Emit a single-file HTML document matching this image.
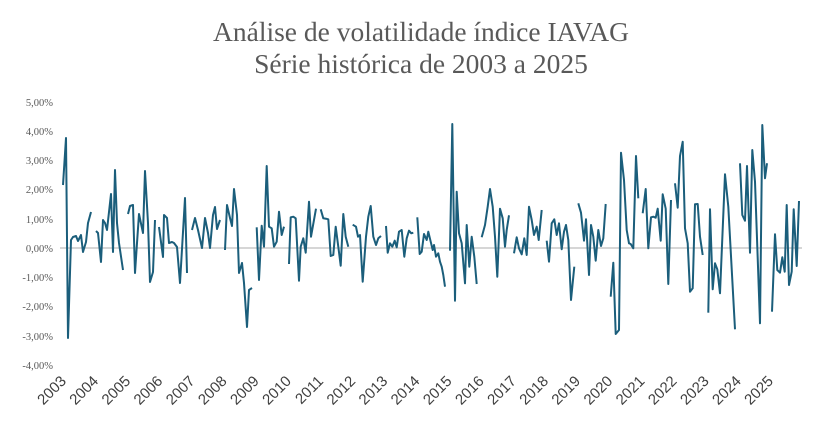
<!DOCTYPE html>
<html><head><meta charset="utf-8"><style>
html,body{margin:0;padding:0;background:#fff;width:818px;height:430px;overflow:hidden}
</style></head><body>
<svg width="818" height="430" viewBox="0 0 818 430" xmlns="http://www.w3.org/2000/svg">
<g font-family="Liberation Serif, serif" fill="#595959" text-anchor="middle" font-size="27.5">
<text x="421" y="41">Análise de volatilidade índice IAVAG</text>
<text x="421" y="73">Série histórica de 2003 a 2025</text>
</g>
<g font-family="Liberation Serif, serif" fill="#595959" text-anchor="end" font-size="10.5">
<text x="53" y="106">5,00%</text>
<text x="53" y="135">4,00%</text>
<text x="53" y="164">3,00%</text>
<text x="53" y="193">2,00%</text>
<text x="53" y="223">1,00%</text>
<text x="53" y="252">0,00%</text>
<text x="53" y="281">-1,00%</text>
<text x="53" y="310">-2,00%</text>
<text x="53" y="340">-3,00%</text>
<text x="53" y="369">-4,00%</text>
</g>
<line x1="60" y1="248" x2="802" y2="248" stroke="#c8c8c8" stroke-width="1.5"/>
<g fill="none" stroke="#1b5e7b" stroke-width="2" stroke-linejoin="round">
<polyline points="63,185 66,138 68,338 71,240 73,237 76,236 78,241 81,235 83,252 86,242 88,223 91,212"/>
<polyline points="96,231 98,233 101,262 103,220 105,223 107,230 111,194 113,252 115,170 117,223 119,243 123,270"/>
<polyline points="128,214 130,206 133,205 135,273 137,243 139,214 143,233 145,171 148,223 150,282 153,272 155,220"/>
<polyline points="159,227 163,257 164,215 167,218 169,243 172,242 174,243 177,247 180,283 183,232 185,198 187,273"/>
<polyline points="192,230 195,218 198,230 202,248 205,218 208,233 210,248 213,215 215,207 217,229 220,220"/>
<polyline points="225,250 227,205 230,218 232,226 234,189 237,215 239,273 242,263 244,283 247,327 249,290 252,288"/>
<polyline points="256.7,227.3 259,280 261.7,225.7 264,246.7 266.7,166 269,226.7 271.7,228.3 274,246.7 276.7,241.7 279,211.7 281.7,235 284,226.7"/>
<polyline points="289,264 290.7,217.3 293.3,216.7 295.7,218.3 299,280.7 300.7,246.7 303.3,238.3 305.7,252.7 309,201.7 311,236.7 316,208.7"/>
<polyline points="320.7,209.3 323.3,218.3 326,218.7 328.3,219.3 330.7,256 333.3,255 335.7,226.7 338.3,246.7 340.7,265.7 343.3,214 345.7,236.7 348.3,246.7"/>
<polyline points="352.7,224.7 356,226.7 358,236.7 360,235 362.7,281.7 366,236.7 368.3,216.7 370.7,206 373.3,236.7 376,245 378.3,238.3 381,236"/>
<polyline points="386,226 387.7,252.7 390,243.3 392.3,246.7 394.7,240.7 396.7,247.3 399,231.7 401.7,230 404.3,256.7 406.7,238.3 409,230.7 411.3,233.3 413.3,232.7"/>
<polyline points="417.3,217.3 419.7,254 421.7,251.7 424,234 426.7,240 428.3,231.7 430.7,241.7 432.7,250 434,245 436,256.7 438.3,253.3 440,261.7 441.7,266.7 443.3,275 445,286.7"/>
<polyline points="450,250.7 452.3,124 455,300.7 456.7,191.7 459,233.3 461.7,243.3 465,283.3 466.7,225 469.3,266.7 471.7,236.7 474.3,256.7 476.7,284"/>
<polyline points="481.7,237.3 485,225 487.7,206.7 490,189 492.7,206.7 495,236.7 497.3,276.7 500,208.7 502.7,218.3 505,246.7 506.7,230 509,215.3"/>
<polyline points="514,253.3 516.7,237.3 519,248.3 521.7,254.3 524.3,238.3 526.7,255 529,206.7 531.7,220 534,235 536.7,226.7 538.7,240 541.7,210"/>
<polyline points="546.7,240.7 549,261.7 551.7,223.3 554.3,219.3 556.7,235 559,223.3 561.7,249.3 564,231.7 566,225 568.3,240 571,300 574.3,266.7"/>
<polyline points="578.3,203.3 581,212.7 584,240.7 586,219.3 589,275 591,225 593.3,236.7 595.7,260.7 598.3,230 601,246 603.3,238.3 605.7,204"/>
<polyline points="610.7,296.7 613.3,262.7 615.7,334 619,330 621,152.7 624,180 626.7,230 629,243.3 630.7,244 633.3,248.3 636,156 638.3,198.3"/>
<polyline points="642.7,213.3 645.7,189 648.3,248.3 651,217.3 653.3,216.7 655.7,217.7 657.7,208.7 660.7,240.7 662.7,194.3 665.7,208.7 668.3,284 671,200"/>
<polyline points="675,183.3 677.7,207.7 680,156 682.7,141.7 685,228.3 687.7,243.3 690,291.7 692.7,288.3 695,204.3 697.7,204 700,236.7 702.7,255"/>
<polyline points="708.3,312.7 710,209.3 712.7,289.3 715,263.3 717.3,269.3 720,293.3 725,174.3 728.3,206.7 735,329.3"/>
<polyline points="740,163.3 742.3,215 745,220.7 747,166 750,252.7 752.3,150 755,181.7 760,323.3 762.3,125 765,178.3 767,163.3"/>
<polyline points="772,311.7 775,234.3 777.3,270 780,272.7 782.3,257.3 784.7,271.7 786.7,205 789,285 791.7,271.7 793.7,209.3 796.7,266 799,201"/>
</g>
<g font-family="Liberation Sans, sans-serif" fill="#404040" text-anchor="end" font-size="15">
<text transform="translate(67,382) rotate(-45)">2003</text>
<text transform="translate(99.1,382) rotate(-45)">2004</text>
<text transform="translate(131.3,382) rotate(-45)">2005</text>
<text transform="translate(163.4,382) rotate(-45)">2006</text>
<text transform="translate(195.6,382) rotate(-45)">2007</text>
<text transform="translate(227.7,382) rotate(-45)">2008</text>
<text transform="translate(259.8,382) rotate(-45)">2009</text>
<text transform="translate(292,382) rotate(-45)">2010</text>
<text transform="translate(324.1,382) rotate(-45)">2011</text>
<text transform="translate(356.3,382) rotate(-45)">2012</text>
<text transform="translate(388.4,382) rotate(-45)">2013</text>
<text transform="translate(420.5,382) rotate(-45)">2014</text>
<text transform="translate(452.7,382) rotate(-45)">2015</text>
<text transform="translate(484.8,382) rotate(-45)">2016</text>
<text transform="translate(517,382) rotate(-45)">2017</text>
<text transform="translate(549.1,382) rotate(-45)">2018</text>
<text transform="translate(581.2,382) rotate(-45)">2019</text>
<text transform="translate(613.4,382) rotate(-45)">2020</text>
<text transform="translate(645.5,382) rotate(-45)">2021</text>
<text transform="translate(677.7,382) rotate(-45)">2022</text>
<text transform="translate(709.8,382) rotate(-45)">2023</text>
<text transform="translate(741.9,382) rotate(-45)">2024</text>
<text transform="translate(774,382) rotate(-45)">2025</text>
</g>
</svg>
</body></html>
